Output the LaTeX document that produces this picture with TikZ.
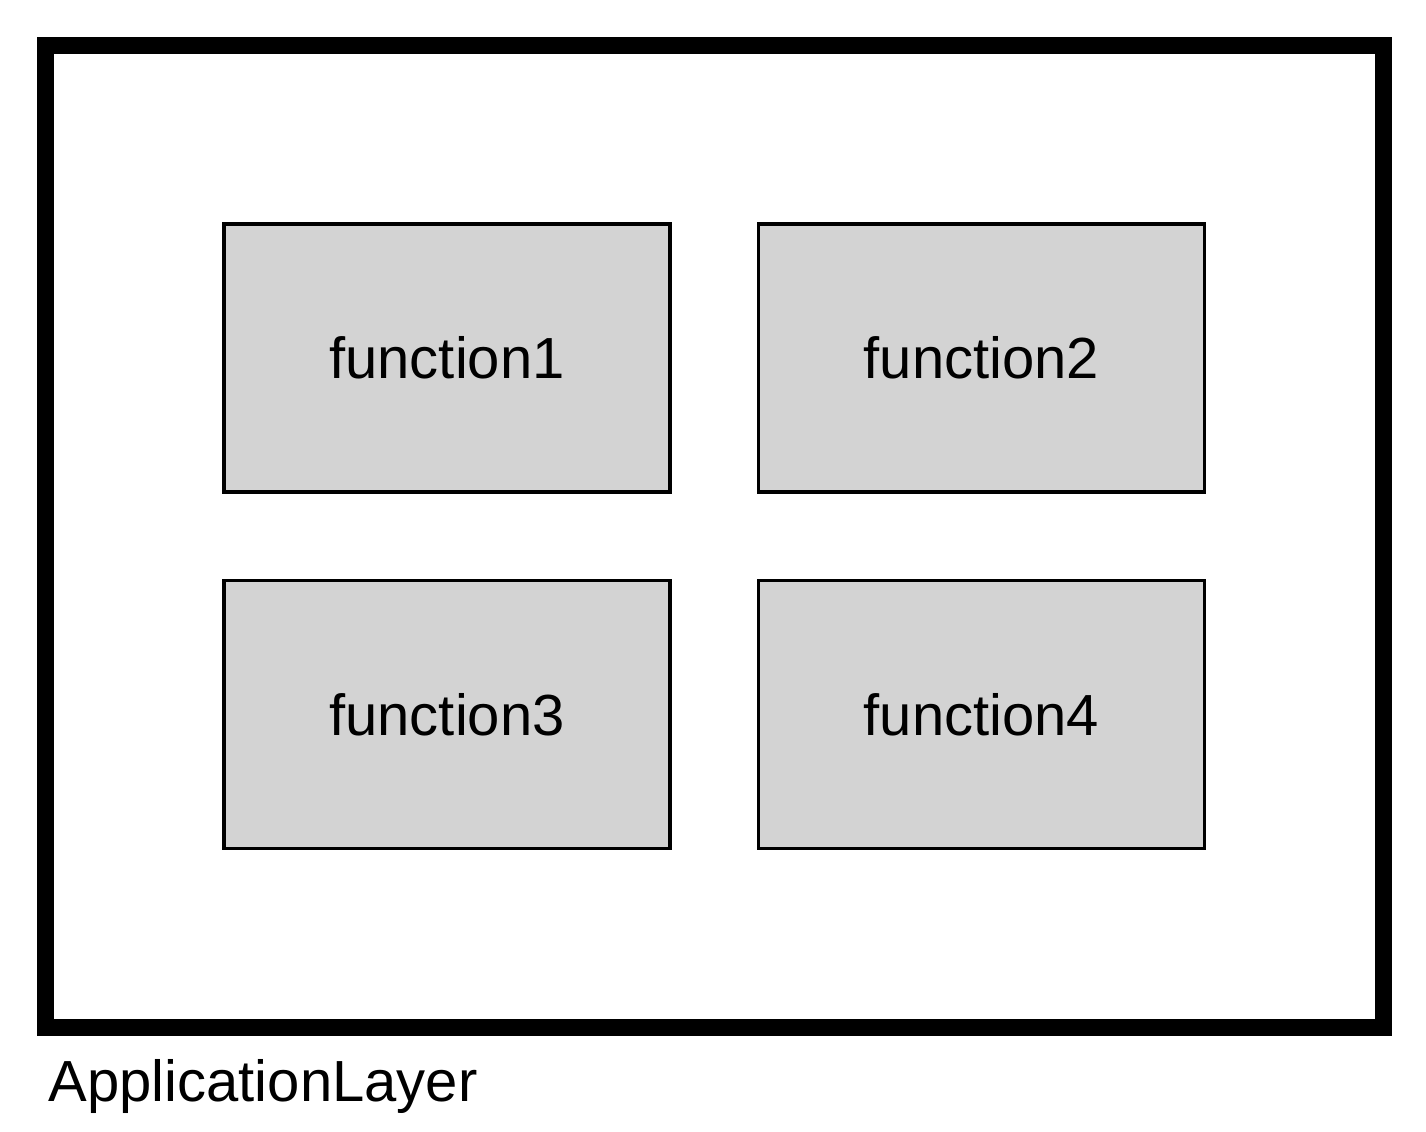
\documentclass[tikz,border=0pt]{standalone}
\usepackage{fontspec}
\setmainfont{Liberation Sans}
\usetikzlibrary{positioning}

\begin{document}
\begin{tikzpicture}
		\useasboundingbox (0,0) rectangle (14.26,-11.31);
		\tikzset{funcbox/.style={draw,line width=1pt,fill={rgb,255:red,211;green,211;blue,211},minimum width=4.46cm,minimum height=2.68cm,inner sep=0pt,font=\fontsize{16.5}{20}\selectfont}}
		\node [draw,line width=5pt,minimum width=13.378cm,minimum height=9.818cm,inner sep=0pt] at (7.144,-5.364) (layer) {};
		\node [funcbox] at (4.47,-3.58) (f1) {function1};
		\node [funcbox] at (9.815,-3.58) (f2) {function2};
		\node [funcbox] at (4.47,-7.145) (f3) {function3};
		\node [funcbox] at (9.815,-7.145) (f4) {function4};
		\node [anchor=base west,inner sep=0pt,font=\fontsize{16.5}{20}\selectfont] at (0.48,-11.017) (name) {ApplicationLayer};
	\end{tikzpicture}
\end{document}
